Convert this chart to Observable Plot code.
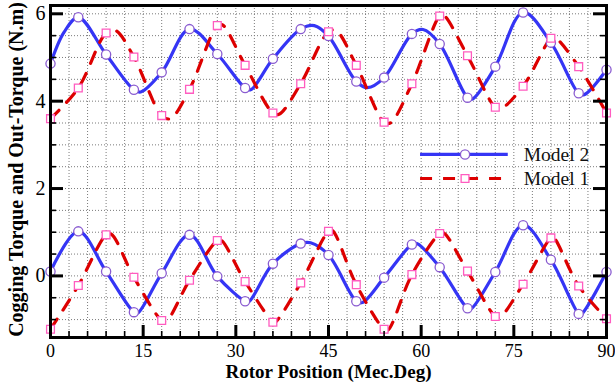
<!DOCTYPE html>
<html><head><meta charset="utf-8">
<script src="https://cdn.jsdelivr.net/npm/d3@7"></script>
<script src="https://cdn.jsdelivr.net/npm/@observablehq/plot@0.6"></script>
<style>html,body{margin:0;padding:0;background:#fff}</style>
</head><body><div id="chart"></div>
<script>
// ---- data ----
const markerDeg = [0,4.5,9,13.5,18,22.5,27,31.5,36,40.5,45,49.5,54,58.5,63,67.5,72,76.5,81,85.5,90];

// Out-torque (upper curves)
const model2Out = [4.86,5.92,5.07,4.26,4.66,5.65,5.08,4.30,4.97,5.65,5.49,4.45,4.54,5.54,5.31,4.08,4.79,6.03,5.34,4.18,4.72];
const model1Out = [3.60,4.30,5.56,5.01,3.67,4.27,5.73,4.82,3.73,4.40,5.59,4.82,3.52,4.40,5.95,5.04,3.86,4.34,5.44,4.79,3.73];
// Cogging torque (lower curves)
const model2Cog = [0.10,1.02,0.10,-0.83,0.06,0.94,-0.01,-0.58,0.28,0.74,0.48,-0.58,-0.04,0.72,0.20,-0.74,0.09,1.16,0.37,-0.87,0.09];
const model1Cog = [-1.22,-0.22,0.94,-0.03,-1.02,-0.10,0.81,-0.13,-1.06,-0.16,1.02,-0.20,-1.22,0.03,0.97,0.11,-0.93,-0.19,0.87,-0.23,-0.98];

// extra curve points (peaks / troughs between markers)
const model2OutExtraDeg = [2.2,14.6,32.4,42.7,51.3,60.3,68.3,86.4];
const model2OutExtraVal = [5.58,4.21,4.26,5.73,4.31,5.64,4.05,4.15];
const model1OutExtraDeg = [10.5,19.4,27.8,37.0,46.2,55.0,63.6,72.9,81.6];
const model1OutExtraVal = [5.62,3.60,5.75,3.70,5.62,3.50,5.97,3.83,5.46];
const model2CogExtraDeg = [14.1,32.1,42.1,50.5,59.3,68.1,85.9];
const model2CogExtraVal = [-0.85,-0.59,0.76,-0.61,0.74,-0.75,-0.88];
const model1CogExtraDeg = [9.8,18.7,27.6,36.3,45.6,54.6,63.6,72.7,81.4];
const model1CogExtraVal = [0.96,-1.04,0.82,-1.07,1.04,-1.24,0.99,-0.95,0.88];

const xTicks = [0,15,30,45,60,75,90];
const yTicks = [0,2,4,6];
const seriesNames = ["Model 2","Model 1"];
const xTitle = "Rotor Position (Mec.Deg)";
const yTitle = "Cogging Torque and Out-Torque (N.m)";

// ---- build tables ----
function curve(xs, ys, ex, ey, g) {
  return [...xs.map((x,i)=>({x, y: ys[i], g})), ...ex.map((x,i)=>({x, y: ey[i], g}))].sort((a,b)=>a.x-b.x);
}
function pts(xs, ys) { return xs.map((x,i)=>({x, y: ys[i]})); }

const m2Line = [...curve(markerDeg, model2Out, model2OutExtraDeg, model2OutExtraVal, "out"),
                ...curve(markerDeg, model2Cog, model2CogExtraDeg, model2CogExtraVal, "cog")];
const m1Line = [...curve(markerDeg, model1Out, model1OutExtraDeg, model1OutExtraVal, "out"),
                ...curve(markerDeg, model1Cog, model1CogExtraDeg, model1CogExtraVal, "cog")];
const m2Pts = [...pts(markerDeg, model2Out), ...pts(markerDeg, model2Cog)];
const m1Pts = [...pts(markerDeg, model1Out), ...pts(markerDeg, model1Cog)];

// ---- layout / style ----
const W = 615, H = 385, ML = 50, MR = 9, MT = 5, MB = 48;
const FW = W - ML - MR, FH = H - MT - MB;
const FONT = "'Liberation Serif','Times New Roman',Times,serif";
const BLUE = "#3535f5", RED = "#dd0000", PURPLE = "#8a5cd0", PINK = "#ff5cc0";
const DASH = "12,11";

const gridX = d3.range(3, 90, 3);
const gridY = d3.range(-1, 6.01, 0.5);
const xMajor = xTicks.filter(v => v > 0 && v < 90);
const xMinor = gridX.filter(v => v % 15 !== 0);
const yMinor = gridY.filter(v => v % 2 !== 0);

const legY = [2.78, 2.23];

const chart = Plot.plot({
  width: W, height: H,
  marginLeft: ML, marginRight: MR, marginTop: MT, marginBottom: MB,
  style: {fontFamily: FONT, color: "#000", background: "#fff", overflow: "visible"},
  x: {domain: [0, 90]},
  y: {domain: [-1.41, 6.19]},
  marks: [
    Plot.ruleX(gridX, {stroke: "#7a7a7a", strokeWidth: 1, strokeDasharray: "1,2"}),
    Plot.ruleY(gridY, {stroke: "#7a7a7a", strokeWidth: 1, strokeDasharray: "1,2"}),
    // curves
    Plot.line(m2Line, {x: "x", y: "y", z: "g", stroke: BLUE, strokeWidth: 3.2, curve: "catmull-rom"}),
    Plot.line(m1Line, {x: "x", y: "y", z: "g", stroke: RED, strokeWidth: 3.2, strokeDasharray: DASH, curve: "catmull-rom"}),
    Plot.dot(m2Pts, {x: "x", y: "y", r: 4.6, stroke: PURPLE, fill: "white", strokeWidth: 1.3}),
    Plot.dot(m1Pts, {x: "x", y: "y", r: 4.4, symbol: "square", stroke: PINK, fill: "white", strokeWidth: 1.3}),
    // legend
    Plot.ruleY([legY[0]], {x1: 59.9, x2: 74.1, stroke: BLUE, strokeWidth: 3.2}),
    Plot.ruleY([legY[1]], {x1: 59.9, x2: 74.1, stroke: RED, strokeWidth: 3.2, strokeDasharray: DASH}),
    Plot.dot([legY[0]], {x: 67.1, y: d => d, r: 4.6, stroke: PURPLE, fill: "white", strokeWidth: 1.3}),
    Plot.dot([legY[1]], {x: 67.1, y: d => d, r: 4.4, symbol: "square", stroke: PINK, fill: "white", strokeWidth: 1.3}),
    Plot.text(seriesNames, {x: 76.6, y: (d, i) => legY[i], textAnchor: "start", fontSize: 19.5, fill: "#111"}),
    // tick marks (inward)
    Plot.ruleX(xMajor, {insetTop: FH - 12, stroke: "#000", strokeWidth: 3}),
    Plot.ruleX(xMinor, {insetTop: FH - 6, stroke: "#000", strokeWidth: 1.6}),
    Plot.ruleY(yTicks, {insetRight: FW - 13, stroke: "#000", strokeWidth: 3}),
    Plot.ruleY(yTicks, {insetLeft: FW - 13, stroke: "#000", strokeWidth: 3}),
    Plot.ruleY(yMinor, {insetRight: FW - 6, stroke: "#000", strokeWidth: 1.6}),
    Plot.ruleY(yMinor, {insetLeft: FW - 6, stroke: "#000", strokeWidth: 1.6}),
    Plot.frame({stroke: "#000", strokeWidth: 3}),
    // axes
    Plot.axisX({ticks: xTicks, tickSize: 0, tickPadding: 7, fontSize: 18, label: null}),
    Plot.axisY({ticks: yTicks, tickSize: 0, tickPadding: 5, fontSize: 20, label: null}),
    Plot.text([xTitle], {frameAnchor: "bottom", textAnchor: "middle", lineAnchor: "middle", dy: 34, fontWeight: "bold", fontSize: 19}),
    Plot.text([yTitle], {frameAnchor: "left", textAnchor: "middle", lineAnchor: "middle", rotate: -90, dx: -34, dy: -2, fontWeight: "bold", fontSize: 20})
  ]
});
document.getElementById("chart").appendChild(chart);
</script>
</body></html>
